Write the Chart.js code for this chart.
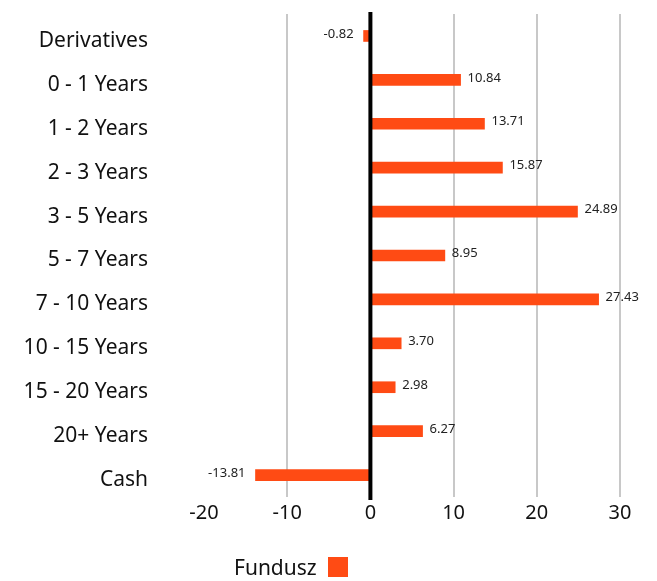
<!DOCTYPE html>
<html>
<head>
<meta charset="utf-8">
<script src="https://cdn.jsdelivr.net/npm/chart.js@4"></script>
<style>
  html, body { margin: 0; padding: 0; background: #fff; }
  #wrap { position: relative; width: 657px; height: 581px; }
  #legend { position: absolute; left: 234px; top: 553px; font: 21px "Noto Sans"; color: #111;
            display: flex; align-items: center; line-height: 28px; }
  #legend .box { display: inline-block; width: 20px; height: 20px; background: #ff4b14; margin-left: 11px; }
</style>
</head>
<body>
<div id="wrap">
  <canvas id="chart" width="657" height="581"></canvas>
  <div id="legend"><span>Fundusz</span><span class="box"></span></div>
</div>
<script>
// dane z wykresu
const categories = ['Derivatives', '0 - 1 Years', '1 - 2 Years', '2 - 3 Years', '3 - 5 Years',
    '5 - 7 Years', '7 - 10 Years', '10 - 15 Years', '15 - 20 Years', '20+ Years', 'Cash'];
const fundValues = [-0.82, 10.84, 13.71, 15.87, 24.89, 8.95, 27.43, 3.70, 2.98, 6.27, -13.81];
const xTicks = [-20, -10, 0, 10, 20, 30];

const barColor = '#ff4b14';

// linia zera nad słupkami + etykiety wartości
const overlayPlugin = {
    id: 'overlay',
    afterDatasetsDraw(chart) {
        const ctx = chart.ctx;
        const area = chart.chartArea;
        const x0 = chart.scales.x.getPixelForValue(0);
        ctx.save();
        ctx.strokeStyle = '#000';
        ctx.lineWidth = 4;
        ctx.beginPath();
        ctx.moveTo(x0, area.top - 2);
        ctx.lineTo(x0, area.bottom + 3);
        ctx.stroke();

        const meta = chart.getDatasetMeta(0);
        ctx.font = '13px "Noto Sans"';
        ctx.fillStyle = '#222';
        ctx.textBaseline = 'middle';
        meta.data.forEach((bar, i) => {
            const v = fundValues[i];
            if (v >= 0) {
                ctx.textAlign = 'left';
                ctx.fillText(v.toFixed(2), bar.x + 7, bar.y - 2);
            } else {
                ctx.textAlign = 'right';
                ctx.fillText(v.toFixed(2), bar.x - 10, bar.y - 2);
            }
        });
        ctx.restore();
    }
};

new Chart(document.getElementById('chart'), {
    type: 'bar',
    data: {
        labels: categories,
        datasets: [{
            label: 'Fundusz',
            data: fundValues,
            backgroundColor: barColor,
            borderWidth: 0,
            barThickness: 11
        }]
    },
    options: {
        indexAxis: 'y',
        responsive: false,
        animation: false,
        layout: { padding: { top: 14, right: 37, bottom: 54, left: 0 } },
        plugins: {
            legend: { display: false },
            tooltip: { enabled: false }
        },
        scales: {
            x: {
                min: -20,
                max: 30,
                afterBuildTicks: function(scale) {
                    scale.ticks = xTicks.map(v => ({ value: v }));
                },
                afterFit: function(scale) { scale.height = 30; },
                border: { display: false },
                grid: {
                    drawTicks: false,
                    color: ctx => (ctx.tick && (ctx.tick.value === -20 || ctx.tick.value === 0)) ? 'rgba(0,0,0,0)' : '#c8c8c8',
                    lineWidth: 2
                },
                ticks: {
                    padding: 4,
                    color: '#111',
                    font: { family: 'Noto Sans', size: 20 }
                }
            },
            y: {
                afterFit: function(scale) {
                    scale.width = 204;
                    scale.paddingTop = 0;
                    scale.paddingBottom = 0;
                },
                border: { display: false },
                grid: { display: false, drawTicks: false },
                ticks: {
                    padding: 56,
                    labelOffset: 5,
                    color: '#111',
                    font: { family: 'Noto Sans', size: 21 }
                }
            }
        }
    },
    plugins: [overlayPlugin]
});
</script>
</body>
</html>
